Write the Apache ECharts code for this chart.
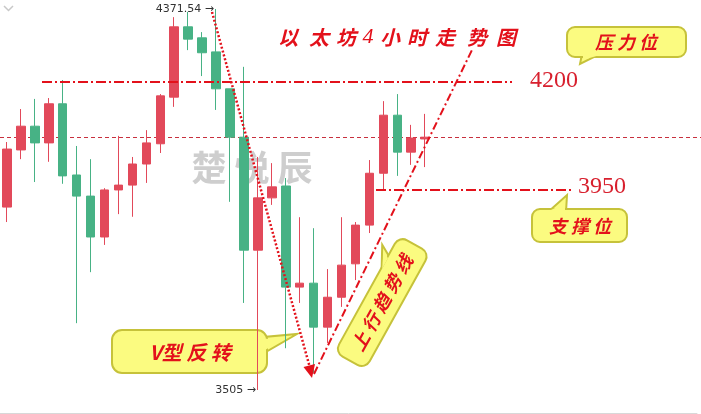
<!DOCTYPE html>
<html><head><meta charset="utf-8">
<script src="https://cdn.jsdelivr.net/npm/echarts@6/dist/echarts.min.js"></script>
<style>html,body{margin:0;padding:0;background:#fff}#c{width:701px;height:414px}</style>
</head><body><div id="c"></div>
<script>
const categories = ['1','2','3','4','5','6','7','8','9','10','11','12','13','14','15','16','17','18','19','20','21','22','23','24','25','26','27','28','29','30','31','32','33','34','35','36','37','38','39','40','41','42','43','44','45','46','47','48','49','50'];
const opens  = [3921,4051,4105,4067,4156,3994,3946,3853,3960,3971,4019,4065,4171,4331,4306,4274,4190,4080,3823,3942,3969,3739,3748,3648,3716,3792,3880,3998,4130,4046,4076];
const closes = [4053,4105,4067,4156,3992,3946,3853,3960,3971,4019,4067,4174,4331,4303,4272,4190,4080,3823,3942,3967,3739,3748,3648,3716,3789,3880,3998,4130,4046,4078,4080];
const lows   = [3887,4030,3978,4024,3974,3657,3773,3835,3905,3899,3976,4044,4149,4278,4219,4142,3933,3703,3505,3926,3600,3703,3544,3612,3694,3755,3862,3960,3992,4017,4012];
const highs  = [4069,4144,4167,4169,4210,4060,4030,3964,4083,4035,4096,4178,4353,4365,4319,4371.54,4190,4240,4035,4021,3987,3898,3873,3780,3898,3887,4028,4162,4178,4108,4133];
const lastPrice = 4080;
const resistance = '4200';
const support = '3950';
const titleChars = ['以','太','坊','4','小','时','走','势','图'];
const watermarkChars = ['楚','悦','辰'];

const kData = categories.map((c, i) => i < opens.length ? [opens[i], closes[i], lows[i], highs[i]] : '-');

const RED = '#e2495a', GREEN = '#47b285', ANN = '#e3111b';
const chart = echarts.init(document.getElementById('c'));

const calli = {fontFamily: '"Noto Sans CJK SC"', fontWeight: 'bold', fontStyle: 'italic', fill: ANN};
const boxStyle = {fill: '#fbfb80', stroke: '#c6c23a', lineWidth: 2};

const titleX = [288,319,346,368,390,417,445,477,506];
const wmX = [209,252,295];

const graphics = [];
watermarkChars.forEach((ch, i) => graphics.push({type:'text', z:0, x: wmX[i], y: 168, style:{text: ch, font: 'bold 35px "Noto Sans CJK SC"', fill:'rgba(190,190,190,0.75)', textAlign:'center', textVerticalAlign:'middle'}}));
titleChars.forEach((ch, i) => graphics.push({type:'text', z:20, x: titleX[i], y: 37, style:Object.assign({}, calli, {text: ch, fontSize: ch === '4' ? 22 : 20, fontFamily: ch === '4' ? '"Liberation Serif"' : '"Noto Sans CJK SC"', fontWeight: ch==='4' ? 'normal':'bold', textAlign:'center', textVerticalAlign:'middle'})}));
graphics.push({type:'line', z:20, shape:{x1:42,y1:82,x2:512,y2:82}, style:{stroke:ANN, lineWidth:2, lineDash:[10,3,2,3]}});
graphics.push({type:'line', z:20, shape:{x1:376,y1:190,x2:572,y2:190}, style:{stroke:ANN, lineWidth:2, lineDash:[10,3,2,3]}});
graphics.push({type:'text', z:20, x:530, y:81, style:{text: resistance, font:'24px "Liberation Serif"', fill:'#d8202e', textVerticalAlign:'middle'}});
graphics.push({type:'text', z:20, x:578, y:187, style:{text: support, font:'24px "Liberation Serif"', fill:'#d8202e', textVerticalAlign:'middle'}});
graphics.push({type:'line', z:20, shape:{x1:212,y1:12,x2:310,y2:368}, style:{stroke:ANN, lineWidth:2.5, lineDash:[2,2]}});
graphics.push({type:'polygon', z:20, shape:{points:[[312,378],[315,364],[303.5,367]]}, style:{fill:ANN}});
graphics.push({type:'line', z:20, shape:{x1:314,y1:374,x2:472,y2:50}, style:{stroke:ANN, lineWidth:2, lineDash:[8,3,2,3]}});
graphics.push({type:'group', z:1, children:[
  {type:'polygon', z:1, shape:{points:[[582,54],[600,54],[580,64]]}, style:boxStyle},
  {type:'rect', z:1, shape:{x:567,y:27,width:119,height:30,r:8}, style:boxStyle},
  {type:'polygon', z:2, shape:{points:[[583,55.5],[598,55.5],[583,60]]}, style:{fill:'#fbfb80'}},
  {type:'text', z:3, x:626, y:42, style:Object.assign({}, calli, {text:'压 力 位', fontSize:18, textAlign:'center', textVerticalAlign:'middle'})}
]});
graphics.push({type:'group', z:1, children:[
  {type:'polygon', z:1, shape:{points:[[548,212],[566,212],[567,195]]}, style:boxStyle},
  {type:'rect', z:1, shape:{x:532,y:209,width:95,height:33,r:8}, style:boxStyle},
  {type:'polygon', z:2, shape:{points:[[550,210.5],[565,210.5],[565,203]]}, style:{fill:'#fbfb80'}},
  {type:'text', z:3, x:580, y:226, style:Object.assign({}, calli, {text:'支 撑 位', fontSize:18, textAlign:'center', textVerticalAlign:'middle'})}
]});
graphics.push({type:'group', z:1, children:[
  {type:'polygon', z:1, shape:{points:[[264,337],[264,353],[297,334]]}, style:boxStyle},
  {type:'rect', z:1, shape:{x:112,y:330,width:155,height:43,r:10}, style:boxStyle},
  {type:'polygon', z:2, shape:{points:[[265,338.5],[265,350],[280,341]]}, style:{fill:'#fbfb80'}},
  {type:'text', z:3, x:190, y:352, style:Object.assign({}, calli, {text:'V型 反 转', fontSize:20, textAlign:'center', textVerticalAlign:'middle'})}
]});
graphics.push({type:'group', z:1, x:382, y:303, rotation: 61*Math.PI/180, children:[
  {type:'polygon', z:1, shape:{points:[[28,-16],[44,-16],[51,-28]]}, style:boxStyle},
  {type:'rect', z:1, shape:{x:-66,y:-17.5,width:133,height:35,r:9}, style:boxStyle},
  {type:'polygon', z:2, shape:{points:[[30,-16.5],[42,-16.5],[47,-24]]}, style:{fill:'#fbfb80'}},
  {type:'text', z:3, x:0, y:0, style:Object.assign({}, calli, {text:'上 行 趋 势 线', fontSize:18, textAlign:'center', textVerticalAlign:'middle'})}
]});
graphics.push({type:'polyline', z:5, shape:{points:[[4,6],[8.5,10.5],[13,6]]}, style:{stroke:'#c8c8c8', lineWidth:1.5, fill:null}});

chart.setOption({
  animation: false,
  backgroundColor: '#fff',
  grid: {left: -3, right: 4, top: 0, bottom: 1, containLabel: false},
  xAxis: {type:'category', data: categories, boundaryGap: true,
    axisLine:{show:true, lineStyle:{color:'#d8d8d8'}}, axisTick:{show:false}, axisLabel:{show:false}, splitLine:{show:false}},
  yAxis: {type:'value', min: 3452.7, max: 4392.0, show:false, splitLine:{show:false}},
  series: [{
    type:'candlestick', data: kData, barWidth: 9, z: 5,
    itemStyle:{color: RED, color0: GREEN, borderColor: RED, borderColor0: GREEN, borderWidth: 1},
    markPoint: {symbolSize: 0, animation:false,
      label:{show:true, position:'left', distance:2, color:'#333', fontSize:11, fontFamily:'"DejaVu Sans"'},
      data:[
        {type:'max', valueDim:'highest', label:{formatter: p => p.value + ' →'}},
        {type:'min', valueDim:'lowest', label:{formatter: p => p.value + ' →'}}
      ]}
  }]
});
// last-price dashed line, positioned through the y axis scale
const yLast = Math.round(chart.convertToPixel({yAxisIndex: 0}, lastPrice)) + 0.5;
graphics.push({type:'line', z:1, shape:{x1:0, y1:yLast, x2:701, y2:yLast}, style:{stroke:'#c8303e', lineWidth:1, lineDash:[4,3]}});
chart.setOption({graphic: graphics});
</script></body></html>
